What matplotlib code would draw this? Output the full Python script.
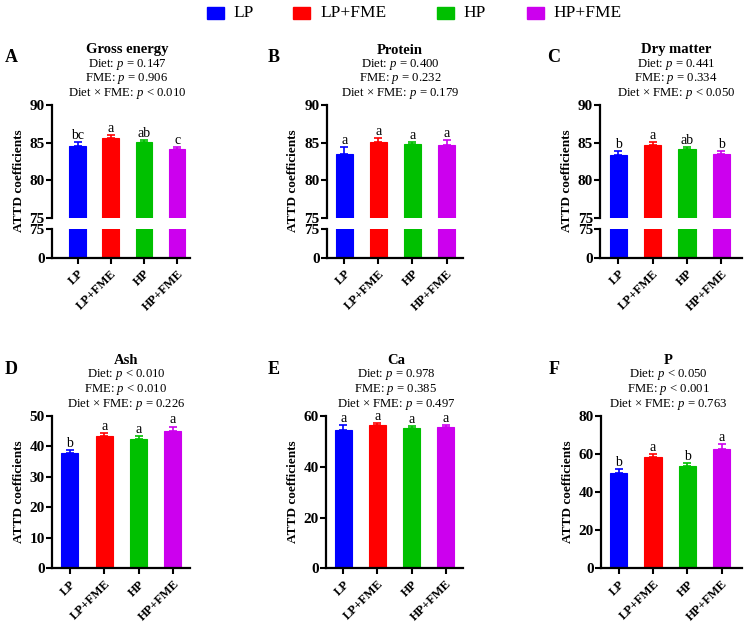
import numpy as np
import matplotlib
matplotlib.use('Agg')
import matplotlib.pyplot as plt
from matplotlib.patches import Rectangle

plt.rcParams['font.family'] = ['Liberation Serif', 'DejaVu Serif']
plt.rcParams['mathtext.fontset'] = 'custom'
plt.rcParams['mathtext.rm'] = 'Liberation Serif'
plt.rcParams['mathtext.it'] = 'Liberation Serif:italic'
plt.rcParams['mathtext.bf'] = 'Liberation Serif:bold'

# ---- data ----
groups = ['LP', 'LP+FME', 'HP', 'HP+FME']
colors = ['#0000ff', '#ff0000', '#00c000', '#cc00ee']

ge_mean = [84.60, 85.63, 85.10, 84.14]
ge_err = [0.45, 0.36, 0.23, 0.23]
ge_letters = ['bc', 'a', 'ab', 'c']
ge_p = ['0.147', '0.906', '< 0.010']

cp_mean = [83.55, 85.04, 84.82, 84.74]
cp_err = [0.83, 0.60, 0.31, 0.57]
cp_letters = ['a', 'a', 'a', 'a']
cp_p = ['0.400', '0.232', '0.179']

dm_mean = [83.42, 84.65, 84.12, 83.46]
dm_err = [0.53, 0.39, 0.26, 0.40]
dm_letters = ['b', 'a', 'ab', 'b']
dm_p = ['0.441', '0.334', '< 0.050']

ash_mean = [37.85, 43.55, 42.50, 45.05]
ash_err = [1.05, 0.75, 0.85, 1.50]
ash_letters = ['b', 'a', 'a', 'a']
ash_p = ['< 0.010', '< 0.010', '0.226']

ca_mean = [54.4, 56.5, 55.3, 55.6]
ca_err = [2.1, 0.8, 0.9, 1.0]
ca_letters = ['a', 'a', 'a', 'a']
ca_p = ['0.978', '0.385', '0.497']

p_mean = [50.2, 58.6, 53.5, 62.8]
p_err = [1.75, 1.40, 1.90, 2.30]
p_letters = ['b', 'a', 'b', 'a']
p_p = ['< 0.050', '< 0.001', '0.763']

W, H = 745, 631
fig = plt.figure(figsize=(W / 100, H / 100), dpi=100)


def fx(px):
    return px / W


def fy(py):
    return 1 - py / H


def pstr(v):
    if v.startswith('<'):
        return '$p$ ' + v
    return '$p$ = ' + v


def style_axis(ax):
    for s in ['top', 'right']:
        ax.spines[s].set_visible(False)
    for s in ['left', 'bottom']:
        ax.spines[s].set_linewidth(1.6)
    ax.tick_params(width=1.5, length=4)
    ax.tick_params(axis='y', labelsize=11, pad=1)
    ax.tick_params(axis='x', pad=3)
    for lab in ax.get_yticklabels():
        lab.set_fontweight('bold')


def draw_bars(ax, mean, err, letters=None):
    x = np.arange(len(groups))
    ax.bar(x, mean, width=0.5, color=colors, edgecolor=colors, linewidth=0.8)
    if err is not None:
        for i in range(len(x)):
            ax.errorbar(x[i], mean[i], yerr=[[0], [err[i]]], fmt='none',
                        ecolor=colors[i], elinewidth=1.2, capsize=2.8,
                        capthick=1.2)
    if letters is not None:
        for i in range(len(x)):
            ax.annotate(letters[i], (x[i], mean[i] + err[i]),
                        xytext=(0, 2.2), textcoords='offset points',
                        ha='center', va='baseline', fontsize=10)


def set_xticks(ax):
    ax.set_xticks(np.arange(len(groups)))
    ax.set_xticklabels(groups, rotation=45, ha='right',
                       rotation_mode='anchor', fontsize=9,
                       fontweight='bold')


def header(cx, ytop, letter, lx, title, pvals):
    fig.text(fx(lx), fy(ytop - 47), letter, fontsize=13, fontweight='bold',
             ha='center', va='center')
    fig.text(fx(cx), fy(ytop - 55), title, fontsize=10.5, fontweight='bold',
             ha='center', va='center')
    lines = ['Diet: ' + pstr(pvals[0]), 'FME: ' + pstr(pvals[1]),
             'Diet \u00d7 FME: ' + pstr(pvals[2])]
    for k, t in enumerate(lines):
        fig.text(fx(cx), fy(ytop - 41 + 14.6 * k), t, fontsize=9.2,
                 ha='center', va='center')


# ---- top row: broken axes (75-90 over 0-75) ----
top_panels = [
    ('A', 'Gross energy', ge_mean, ge_err, ge_letters, ge_p, 51.7, 190.0, (-0.78, 3.39), 127, 11),
    ('B', 'Protein', cp_mean, cp_err, cp_letters, cp_p, 326.5, 463.3, (-0.52, 3.49), 400, 274),
    ('C', 'Dry matter', dm_mean, dm_err, dm_letters, dm_p, 600.0, 742.0, (-0.53, 3.60), 676, 554),
]
for letter, title, mean, err, letters, pv, xl, xr, xlim, cx, lx in top_panels:
    ax_up = fig.add_axes([fx(xl), fy(218), fx(xr - xl), (218 - 105) / H])
    ax_lo = fig.add_axes([fx(xl), fy(257.7), fx(xr - xl), (257.7 - 229) / H])
    draw_bars(ax_up, mean, err, letters)
    draw_bars(ax_lo, mean, None)
    ax_up.set_ylim(75, 90)
    ax_up.set_yticks([75, 80, 85, 90])
    ax_lo.set_ylim(0, 75)
    ax_lo.set_yticks([0, 75])
    for a in (ax_up, ax_lo):
        a.set_xlim(*xlim)
    ax_up.spines['bottom'].set_visible(False)
    ax_up.set_xticks([])
    set_xticks(ax_lo)
    style_axis(ax_up)
    style_axis(ax_lo)
    fig.text(fx(xl - 33), fy(181), 'ATTD coefficients', rotation=90,
             fontsize=9.5, fontweight='bold', ha='center', va='center')
    header(cx, 105, letter, lx, title, pv)

# ---- bottom row ----
bot_panels = [
    ('D', 'Ash', ash_mean, ash_err, ash_letters, ash_p, 51.7, 190.0, (-0.53, 3.50), 50, [0, 10, 20, 30, 40, 50], 126, 11),
    ('E', 'Ca', ca_mean, ca_err, ca_letters, ca_p, 326.0, 463.3, (-0.51, 3.52), 60, [0, 20, 40, 60], 396, 274),
    ('F', 'P', p_mean, p_err, p_letters, p_p, 601.0, 742.0, (-0.51, 3.59), 80, [0, 20, 40, 60, 80], 668, 554),
]
for letter, title, mean, err, letters, pv, xl, xr, xlim, ymax, yt, cx, lx in bot_panels:
    ax = fig.add_axes([fx(xl), fy(568.3), fx(xr - xl), (568.3 - 416) / H])
    draw_bars(ax, mean, err, letters)
    ax.set_ylim(0, ymax)
    ax.set_yticks(yt)
    ax.set_xlim(*xlim)
    set_xticks(ax)
    style_axis(ax)
    fig.text(fx(xl - 33), fy(492), 'ATTD coefficients', rotation=90,
             fontsize=9.5, fontweight='bold', ha='center', va='center')
    header(cx, 416, letter, lx, title, pv)

# ---- legend across the top ----
patch_x = [206.7, 293, 436.7, 526.7]
for px, g, c in zip(patch_x, groups, colors):
    fig.add_artist(Rectangle((fx(px), fy(19)), 17 / W, 12 / H,
                             transform=fig.transFigure, color=c))
    fig.text(fx(px + 27), fy(13), g, fontsize=12.5, ha='left', va='center')

fig.savefig('out.png', dpi=100)
